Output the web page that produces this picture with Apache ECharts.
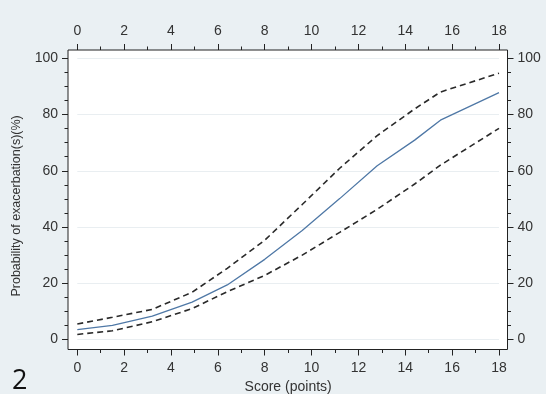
<!DOCTYPE html>
<html>
<head>
<meta charset="utf-8">
<script src="https://cdn.jsdelivr.net/npm/echarts@6/dist/echarts.min.js"></script>
<style>
html,body{margin:0;padding:0;background:#eaf0f3;}
#c{width:546px;height:394px;}
</style>
</head>
<body>
<div id="c"></div>
<script>
// Data
const scores = [0, 1.5, 3.2, 4.9, 6.4, 8, 9.6, 11.2, 12.8, 14.4, 15.5, 18];
const probability = [3.5, 5.0, 8.3, 13.3, 19.4, 28.5, 38.8, 50.1, 61.8, 70.9, 78.0, 87.8];
const upperCI = [5.5, 7.9, 10.7, 16.8, 25.3, 35.3, 48.0, 60.9, 72.5, 82.0, 88.0, 94.7];
const lowerCI = [1.8, 3.1, 6.3, 11.0, 17.0, 22.8, 30.0, 38.1, 46.3, 55.3, 62.0, 75.1];

// tick layout: x 0..18 every 2 (minor every 1), y 0..100 every 20 (minor every 5)
const X_MIN = 0, X_MAX = 18, X_STEP = 2, X_MINOR_SPLIT = 2;
const Y_MIN = 0, Y_MAX = 100, Y_STEP = 20, Y_MINOR_SPLIT = 4;

const FONT = "'Liberation Sans', Arial, sans-serif";
const AX = '#222';
const LBL = '#333';

function pairs(ys) { return scores.map((x, i) => [x, ys[i]]); }

// The framed box (grid 0) is slightly larger than the 0..18 / 0..100 data range (grid 1),
// as in the Stata original; the data axes are offset onto the frame edges.
const BOX = { left: 68, right: 38.5, top: 50, bottom: 44.5 };
const DATA = { left: 77.3, right: 47, top: 58.3, bottom: 54.5 };

function xAx(pos, offset, name) {
  return {
    type: 'value', gridIndex: 1, position: pos, offset: offset,
    min: X_MIN, max: X_MAX, interval: X_STEP,
    axisLine: { show: false, onZero: false },
    axisTick: { show: true, length: 6, lineStyle: { color: AX, width: 1 } },
    minorTick: { show: true, splitNumber: X_MINOR_SPLIT, length: 3.5, lineStyle: { color: AX, width: 1 } },
    axisLabel: { show: true, color: LBL, fontSize: 14, fontFamily: FONT, margin: 12 },
    splitLine: { show: false },
    name: name || '', nameLocation: 'middle', nameGap: 22,
    nameTextStyle: { color: LBL, fontSize: 14, fontFamily: FONT }
  };
}
function yAx(pos, offset, split, name) {
  return {
    type: 'value', gridIndex: 1, position: pos, offset: offset,
    min: Y_MIN, max: Y_MAX, interval: Y_STEP,
    axisLine: { show: false, onZero: false },
    axisTick: { show: true, length: 6, lineStyle: { color: AX, width: 1 } },
    minorTick: { show: true, splitNumber: Y_MINOR_SPLIT, length: 3.5, lineStyle: { color: AX, width: 1 } },
    axisLabel: { show: true, color: LBL, fontSize: 14, fontFamily: FONT, margin: 10 },
    splitLine: { show: split, lineStyle: { color: '#e9eef1', width: 1 } },
    name: name || '', nameLocation: 'middle', nameGap: 45,
    nameTextStyle: { color: LBL, fontSize: 12.5, fontFamily: FONT, padding: [0, 14, 0, 0] }
  };
}
function hidden(isX) {
  return { type: 'value', gridIndex: 0, show: false, min: 0, max: 1,
           axisLine: { show: false }, axisTick: { show: false }, axisLabel: { show: false }, splitLine: { show: false } };
}

const chart = echarts.init(document.getElementById('c'), null, { renderer: 'canvas' });
chart.setOption({
  backgroundColor: '#eaf0f3',
  animation: false,
  grid: [
    Object.assign({ outerBoundsMode: 'none', show: true, backgroundColor: '#ffffff', borderColor: AX, borderWidth: 1, z: 0 }, BOX),
    Object.assign({ outerBoundsMode: 'none', show: false }, DATA)
  ],
  xAxis: [
    hidden(true),
    xAx('bottom', DATA.bottom - BOX.bottom, 'Score (points)'),
    xAx('top', DATA.top - BOX.top)
  ],
  yAxis: [
    hidden(false),
    yAx('left', DATA.left - BOX.left, true, 'Probability of exacerbation(s)(%)'),
    yAx('right', DATA.right - BOX.right, false)
  ],
  graphic: [
    { type: 'text', left: 12, top: 368, style: { text: '2', fontSize: 27, fontFamily: "'Open Sans', sans-serif", fill: '#111' } }
  ],
  series: [
    { type: 'line', xAxisIndex: 1, yAxisIndex: 1, data: pairs(upperCI), symbol: 'none', lineStyle: { color: '#2a2a2a', width: 1.6, type: [6, 4] }, z: 3 },
    { type: 'line', xAxisIndex: 1, yAxisIndex: 1, data: pairs(lowerCI), symbol: 'none', lineStyle: { color: '#2a2a2a', width: 1.6, type: [6, 4] }, z: 3 },
    { type: 'line', xAxisIndex: 1, yAxisIndex: 1, data: pairs(probability), symbol: 'none', lineStyle: { color: '#4f78a6', width: 1.3 }, z: 4 }
  ]
});
</script>
</body>
</html>
